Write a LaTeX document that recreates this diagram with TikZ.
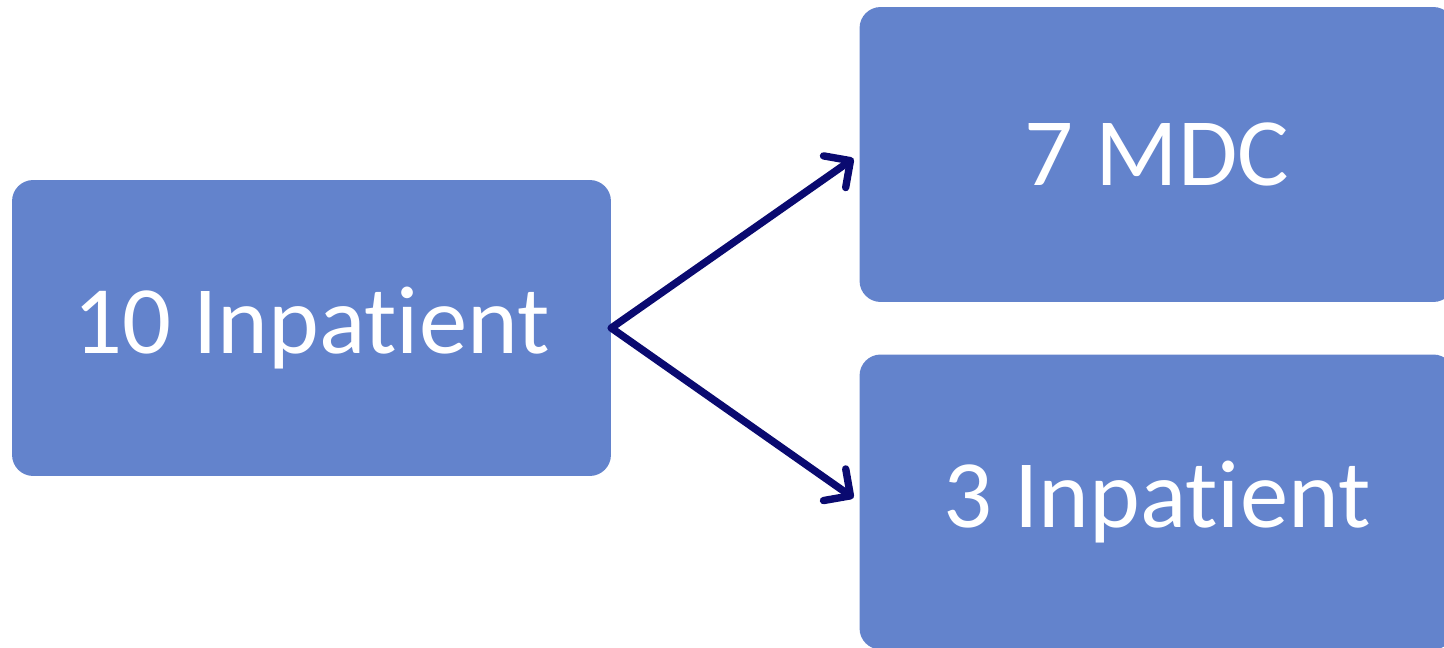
\documentclass[tikz,border=0pt]{standalone}
\usepackage{fontspec}
\setmainfont{Carlito}[Ligatures=NoCommon]
\usetikzlibrary{arrows.meta}
\definecolor{boxblue}{HTML}{6383CC}
\definecolor{arrownavy}{HTML}{0A0A70}

\begin{document}
\begin{tikzpicture}[x=0.02cm, y=-0.02cm,
    box/.style={rectangle, rounded corners=12pt, fill=boxblue, draw=none, text=white,
                font=\fontsize{55}{60}\selectfont, inner sep=0pt},
    flow/.style={arrownavy, line width=4.2pt, line cap=round, shorten >=4pt,
                 -{Straight Barb[length=11pt, width=22pt, line width=4.2pt, round]}}]
  \useasboundingbox (0,0) rectangle (1444,648);
  \clip (0,0) rectangle (1444,648);
  \node[box, minimum width=11.98cm, minimum height=5.92cm] (in10) at (311.5,328) {10 Inpatient};
  \node[box, minimum width=11.9cm, minimum height=5.9cm] (mdc7) at (1157,154.5) {7 MDC};
  \node[box, minimum width=11.9cm, minimum height=5.9cm] (in3) at (1157,502) {3 Inpatient};
  % the split into the two groups
  \draw[flow] (in10.east) -- (mdc7.west);
  \draw[flow] (in10.east) -- (in3.west);
\end{tikzpicture}
\end{document}
